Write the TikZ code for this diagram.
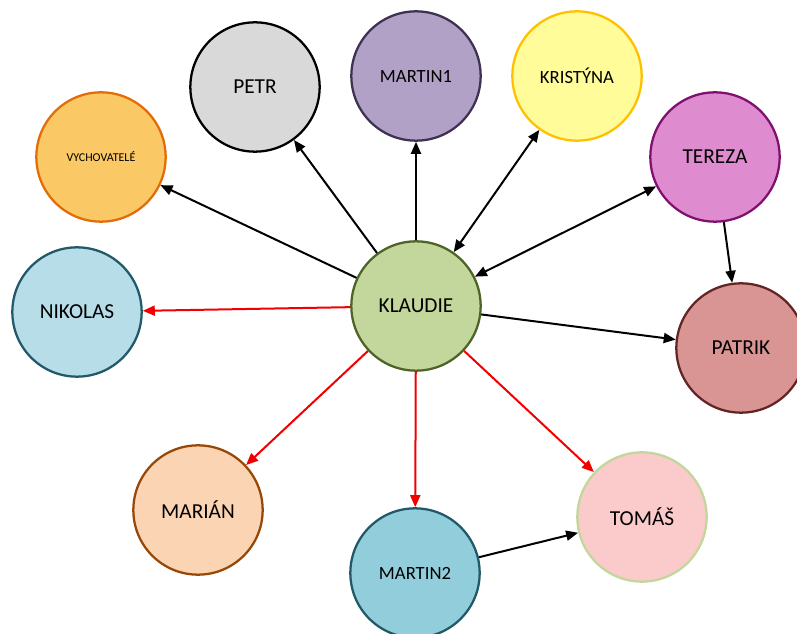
\documentclass[tikz,border=0pt]{standalone}
\usepackage{fontspec}
\setmainfont{Carlito}
\usetikzlibrary{arrows.meta}
\definecolor{klaudiefill}{HTML}{C3D69B}
\definecolor{klaudieline}{HTML}{4F6228}
\definecolor{petrfill}{HTML}{D9D9D9}
\definecolor{martinfill}{HTML}{B2A1C7}
\definecolor{martinline}{HTML}{3F3151}
\definecolor{kristfill}{HTML}{FFFC99}
\definecolor{kristline}{HTML}{FFC000}
\definecolor{vychfill}{HTML}{FAC864}
\definecolor{vychline}{HTML}{E36C09}
\definecolor{terezafill}{HTML}{DE8CCF}
\definecolor{terezaline}{HTML}{7F1070}
\definecolor{nikolasfill}{HTML}{B7DDE8}
\definecolor{blueline}{HTML}{215968}
\definecolor{patrikfill}{HTML}{D99594}
\definecolor{patrikline}{HTML}{632523}
\definecolor{marianfill}{HTML}{FBD4B4}
\definecolor{marianline}{HTML}{974806}
\definecolor{tomasfill}{HTML}{FBCACA}
\definecolor{martintwofill}{HTML}{92CDDC}
\tikzset{
  person/.style={circle,draw,line width=1.7pt,minimum size=97pt,inner sep=0pt,
    font=\fontsize{16}{19}\selectfont},
  midname/.style={font=\fontsize{14}{17}\selectfont},
  link/.style={-{Triangle[length=9pt,width=7.5pt]},line width=1.5pt},
  twolink/.style={{Triangle[length=9pt,width=7.5pt]}-{Triangle[length=9pt,width=7.5pt]},line width=1.5pt},
  redlink/.style={link,red!95!black}
}
\begin{document}
\begin{tikzpicture}[x=0.75pt,y=-0.75pt]
  \useasboundingbox (0,0) rectangle (797,634);
  % people
  \node[person,fill=klaudiefill,draw=klaudieline] (klaudie) at (416,306) {KLAUDIE};
  \node[person,fill=petrfill,draw=black] (petr) at (255,87) {PETR};
  \node[person,midname,fill=martinfill,draw=martinline] (martin1) at (416,76) {MARTIN1};
  \node[person,midname,fill=kristfill,draw=kristline] (kristyna) at (577,76) {KRISTÝNA};
  \node[person,font=\fontsize{9}{11}\selectfont,fill=vychfill,draw=vychline] (vych) at (101,157) {VYCHOVATELÉ};
  \node[person,fill=terezafill,draw=terezaline] (tereza) at (715,157) {TEREZA};
  \node[person,fill=nikolasfill,draw=blueline] (nikolas) at (77,312) {NIKOLAS};
  \node[person,fill=patrikfill,draw=patrikline] (patrik) at (741,348) {PATRIK};
  \node[person,fill=marianfill,draw=marianline] (marian) at (198,510) {MARIÁN};
  \node[person,fill=tomasfill,draw=klaudiefill] (tomas) at (642,517) {TOMÁŠ};
  \node[person,midname,fill=martintwofill,draw=blueline] (martin2) at (415,573) {MARTIN2};
  % black links
  \draw[link] (klaudie) -- (vych);
  \draw[link] (klaudie) -- (petr);
  \draw[link] (klaudie) -- (martin1);
  \draw[twolink] (klaudie) -- (kristyna);
  \draw[twolink] (klaudie) -- (tereza);
  \draw[link] (tereza) -- (patrik);
  \draw[link] (klaudie) -- (patrik);
  \draw[link] (martin2) -- (tomas);
  % red links
  \draw[redlink] (klaudie) -- (nikolas);
  \draw[redlink] (klaudie) -- (marian);
  \draw[redlink] (klaudie) -- (martin2);
  \draw[redlink] (klaudie) -- (tomas);
\end{tikzpicture}
\end{document}
